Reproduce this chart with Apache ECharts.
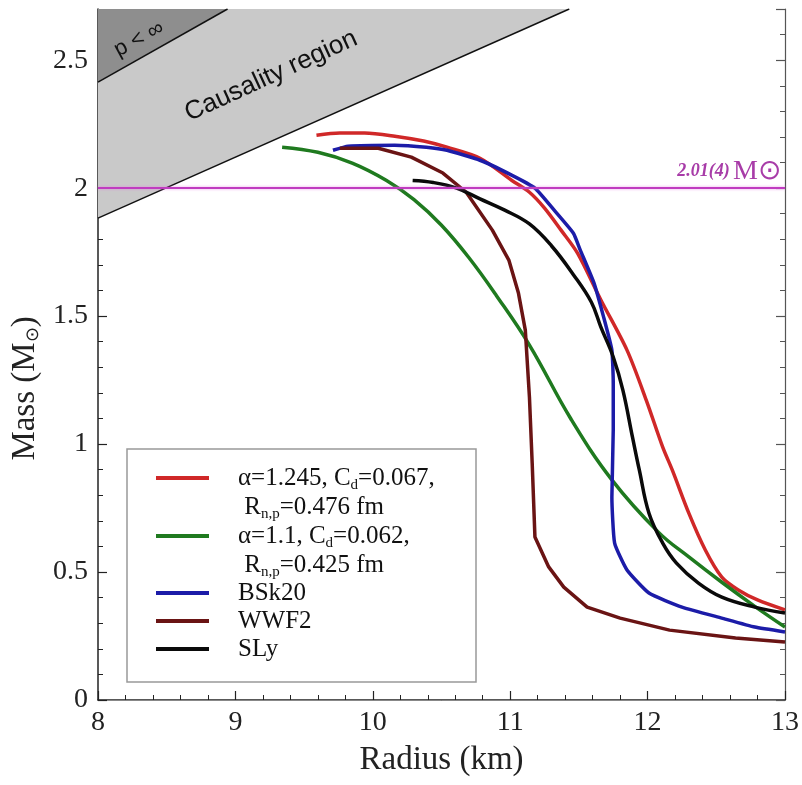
<!DOCTYPE html>
<html><head><meta charset="utf-8">
<script src="https://cdn.jsdelivr.net/npm/echarts@6/dist/echarts.min.js"></script>
<style>html,body{margin:0;padding:0;background:#fff}#c{width:802px;height:785px}</style>
</head><body><div id="c"></div>
<script>
// ---- axis ranges / ticks ----
const xRange = [8, 13];
const yRange = [0, 2.7];
const xMajor = 1, yMajor = 0.5, yMinor = 0.1;

// ---- series names ----
const names = ['alpha1245', 'alpha11', 'BSk20', 'WWF2', 'SLy'];

// ---- curve data (Radius km, Mass Msun) ----
const rA1245 = [9.59, 9.76, 9.94, 10.16, 10.37, 10.54, 10.78, 11.01, 11.14, 11.25, 11.37, 11.49, 11.66, 11.85, 11.99, 12.11, 12.18, 12.30, 12.42, 12.54, 12.66, 12.80, 13.0];
const mA1245 = [2.207, 2.215, 2.215, 2.203, 2.184, 2.160, 2.117, 2.031, 1.984, 1.922, 1.836, 1.746, 1.563, 1.367, 1.172, 0.988, 0.898, 0.730, 0.586, 0.480, 0.430, 0.391, 0.352];

const rA11 = [9.34, 9.60, 9.85, 10.10, 10.30, 10.50, 10.70, 10.90, 11.14, 11.44, 11.74, 12.08, 12.30, 12.54, 12.78, 13.0];
const mA11 = [2.160, 2.140, 2.098, 2.030, 1.955, 1.855, 1.728, 1.580, 1.387, 1.100, 0.860, 0.655, 0.559, 0.460, 0.366, 0.285];

const rBSk20 = [9.71, 9.82, 10.16, 10.39, 10.54, 10.78, 11.01, 11.18, 11.32, 11.46, 11.51, 11.61, 11.68, 11.74, 11.75, 11.75, 11.74, 11.76, 11.85, 12.01, 12.25, 12.54, 12.78, 13.0];
const mBSk20 = [2.148, 2.164, 2.168, 2.160, 2.148, 2.109, 2.051, 2.000, 1.914, 1.824, 1.758, 1.629, 1.496, 1.367, 1.238, 1.055, 0.793, 0.613, 0.508, 0.418, 0.363, 0.320, 0.285, 0.266];

const rWWF2 = [9.76, 10.04, 10.28, 10.51, 10.68, 10.87, 10.99, 11.06, 11.11, 11.14, 11.16, 11.18, 11.28, 11.39, 11.56, 11.80, 12.16, 12.64, 13.0];
const mWWF2 = [2.156, 2.156, 2.121, 2.059, 1.984, 1.836, 1.719, 1.590, 1.445, 1.184, 0.926, 0.637, 0.520, 0.441, 0.363, 0.320, 0.273, 0.242, 0.227];

const rSLy = [10.29, 10.44, 10.61, 10.78, 10.96, 11.14, 11.30, 11.46, 11.59, 11.66, 11.75, 11.82, 11.89, 11.94, 12.01, 12.11, 12.21, 12.37, 12.54, 12.78, 13.0];
const mSLy = [2.030, 2.022, 2.000, 1.958, 1.914, 1.860, 1.775, 1.662, 1.555, 1.457, 1.340, 1.211, 1.027, 0.898, 0.730, 0.613, 0.535, 0.457, 0.402, 0.363, 0.340];

// ---- causality / p<inf boundary lines ----
const causalR = [8, 11.43];
const causalM = [1.883, 2.7];
const limitR = [8, 8.943];
const limitM = [2.414, 2.7];

// ---- observed maximum mass line ----
const obsMass = [2.0];
const obsLabel = '2.01(4)';

const zip = (r, m) => r.map((v, i) => [v, m[i]]);

const colors = {alpha1245:'#d02828', alpha11:'#1f7a1f', BSk20:'#1c1ca8', WWF2:'#6a1414', SLy:'#0a0a0a'};
const smooths = {alpha1245:0.3, alpha11:0.4, BSk20:0.15, WWF2:0, SLy:0.4};
const curveData = {alpha1245: zip(rA1245, mA1245), alpha11: zip(rA11, mA11), BSk20: zip(rBSk20, mBSk20), WWF2: zip(rWWF2, mWWF2), SLy: zip(rSLy, mSLy)};

const serif = 'Liberation Serif';
const richLeg = {
  a: {fontFamily: serif, fontSize: 25, color: '#111', lineHeight: 29},
  s: {fontFamily: serif, fontSize: 15, color: '#111', lineHeight: 17, verticalAlign: 'bottom'}
};
const legendText = {
  alpha1245: '\n{a|α=1.245, C}{s|d}{a|=0.067,}\n{a| R}{s|n,p}{a|=0.476 fm}',
  alpha11: '\n{a|α=1.1, C}{s|d}{a|=0.062,}\n{a| R}{s|n,p}{a|=0.425 fm}',
  BSk20: '{a|BSk20}', WWF2: '{a|WWF2}', SLy: '{a|SLy}'
};
const legendTop = {alpha1245: 478 - 43.5, alpha11: 536 - 43.5, BSk20: 593 - 14.5, WWF2: 621 - 14.5, SLy: 649 - 14.5};

const legends = names.map(n => ({
  data: [n], left: 156, top: legendTop[n], padding: 0, orient: 'vertical', z: 20,
  icon: 'rect', itemWidth: 53, itemHeight: 4, selectedMode: false,
  formatter: () => legendText[n],
  textStyle: {fontFamily: serif, fontSize: 25, color: '#111', lineHeight: 29, padding: [0, 0, 0, 24], rich: richLeg}
}));

const axisCol = '#222';
const series = [
  {type: 'line', name: 'causal', data: zip(causalR, causalM), symbol: 'none', z: 1,
   lineStyle: {color: '#111', width: 1.5}, areaStyle: {origin: 'end', color: '#c9c9c9', opacity: 1}, silent: true},
  {type: 'line', name: 'limit', data: zip(limitR, limitM), symbol: 'none', z: 1,
   lineStyle: {color: '#111', width: 1.5}, areaStyle: {origin: 'end', color: '#8e8e8e', opacity: 1}, silent: true},
  {type: 'line', name: 'obs', data: [], z: 2, silent: true,
   markLine: {symbol: 'none', silent: true, animation: false,
     lineStyle: {color: '#c03cc0', width: 2, type: 'solid', shadowColor: 'rgba(230,120,230,0.7)', shadowBlur: 3},
     label: {position: 'insideEndTop', distance: [4, 3], formatter: '{a|' + obsLabel + '} {b|M⊙}',
       rich: {a: {fontFamily: serif, fontSize: 18, fontStyle: 'italic', fontWeight: 'bold', color: '#a83ca8'},
              b: {fontFamily: serif, fontSize: 28, color: '#a83ca8'}}},
     data: obsMass.map(v => ({yAxis: v}))}}
].concat(names.map(n => ({
  type: 'line', name: n, data: curveData[n], symbol: 'none', smooth: smooths[n], z: 3,
  color: colors[n], lineStyle: {color: colors[n], width: 3.5}
})));

const chart = echarts.init(document.getElementById('c'), null, {renderer: 'canvas'});
chart.setOption({
  animation: false,
  backgroundColor: '#fff',
  grid: {left: 98, right: 4, top: 9, bottom: 85},
  xAxis: [
    {type: 'value', min: xRange[0], max: xRange[1], interval: xMajor, position: 'bottom',
     axisLine: {lineStyle: {color: axisCol, width: 1.5}},
     axisTick: {inside: true, length: 9, lineStyle: {color: axisCol, width: 1.2}},
     minorTick: {show: true, splitNumber: 5, length: 5, lineStyle: {color: axisCol, width: 1}},
     splitLine: {show: false},
     axisLabel: {fontFamily: serif, fontSize: 28, color: axisCol, margin: 9},
     name: 'Radius (km)', nameLocation: 'middle', nameGap: 44,
     nameTextStyle: {fontFamily: serif, fontSize: 33, color: axisCol}},
    {type: 'value', min: xRange[0], max: xRange[1], interval: xMajor, position: 'top',
     axisLine: {show: true, lineStyle: {color: '#888', width: 1}}, axisTick: {show: false},
     axisLabel: {show: false}, splitLine: {show: false}}
  ],
  yAxis: [
    {type: 'value', min: yRange[0], max: yRange[1], interval: yMajor, position: 'left',
     axisLine: {show: true, lineStyle: {color: axisCol, width: 1.5}},
     axisTick: {inside: true, length: 9, lineStyle: {color: axisCol, width: 1.2}},
     splitLine: {show: false},
     axisLabel: {fontFamily: serif, fontSize: 28, color: axisCol, margin: 10, showMaxLabel: false},
     name: 'Mass (M{s|⊙})', nameLocation: 'middle', nameGap: 43, nameRotate: 90,
     nameTextStyle: {fontFamily: serif, fontSize: 33, color: axisCol, padding: [0, 68, 0, 0],
       rich: {s: {fontFamily: serif, fontSize: 18, color: axisCol, verticalAlign: 'bottom', lineHeight: 22}}}},
    {type: 'value', min: yRange[0], max: yRange[1], interval: yMajor, position: 'right',
     axisLine: {show: true, lineStyle: {color: '#555', width: 1.2}},
     axisTick: {inside: true, length: 9, lineStyle: {color: '#555', width: 1.2}},
     axisLabel: {show: false}, splitLine: {show: false}},
    {type: 'value', min: yRange[0], max: yRange[1], interval: yMinor, position: 'left',
     axisLine: {show: false}, axisTick: {inside: true, length: 5, lineStyle: {color: axisCol, width: 1}},
     axisLabel: {show: false}, splitLine: {show: false}},
    {type: 'value', min: yRange[0], max: yRange[1], interval: yMinor, position: 'right',
     axisLine: {show: false}, axisTick: {inside: true, length: 5, lineStyle: {color: '#555', width: 1}},
     axisLabel: {show: false}, splitLine: {show: false}}
  ],
  legend: legends,
  graphic: [
    {type: 'rect', shape: {x: 127, y: 449, width: 349, height: 233}, z: 1,
     style: {fill: '#fff', stroke: '#999', lineWidth: 1.5}},
    {type: 'text', x: 271, y: 76, rotation: 24.5 * Math.PI / 180, z: 6,
     style: {text: 'Causality region', font: '26px "Liberation Sans"', fill: '#111', align: 'center', verticalAlign: 'middle'}},
    {type: 'text', x: 139, y: 39, rotation: 28 * Math.PI / 180, z: 6,
     style: {text: 'p < ∞', font: '22px "Liberation Sans"', fill: '#111', align: 'center', verticalAlign: 'middle'}}
  ],
  series: series
});
</script></body></html>
